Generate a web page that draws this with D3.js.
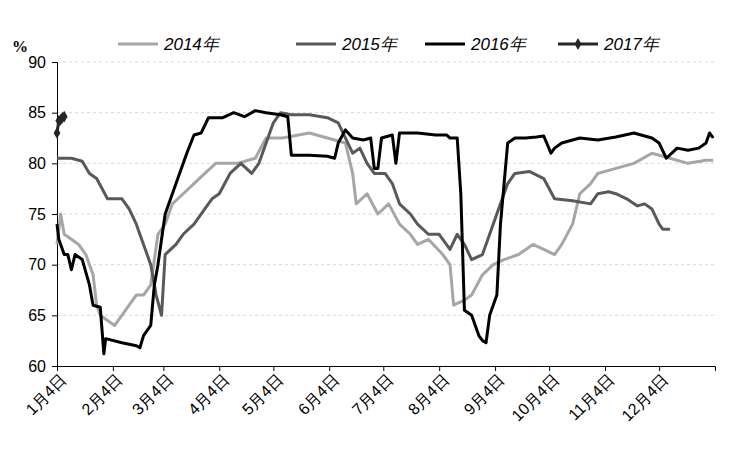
<!DOCTYPE html>
<html><head><meta charset="utf-8">
<script src="https://cdn.jsdelivr.net/npm/d3@7"></script>
<style>body{margin:0;background:#fff}svg{font-family:"Liberation Serif","DejaVu Serif",serif}</style>
</head><body><svg width="733" height="458"></svg>
<script>
// days counted from Jan 4
const monthTicks = [0,31,59,90,120,151,181,212,243,273,304,334];
const monthLabels = ["1月4日","2月4日","3月4日","4月4日","5月4日","6月4日","7月4日","8月4日","9月4日","10月4日","11月4日","12月4日"];
const yTicks = [60,65,70,75,80,85,90];

const s2014 = [[0,72],[2,75],[4,73],[8,72.5],[12,72],[16,71],[20,69],[22,66],[24,65],[28,64.5],[32,64],[36,65],[40,66],[44,67],[48,67],[52,68],[56,73],[60,74],[64,76],[70,77],[76,78],[82,79],[88,80],[94,80],[100,80],[110,80.5],[116,82.5],[125,82.5],[140,83],[150,82.5],[160,82],[164,79],[166,76],[172,77],[178,75],[184,76],[190,74],[196,73],[200,72],[206,72.5],[214,71],[218,70],[220,66],[226,66.5],[230,67],[236,69],[242,70],[248,70.5],[256,71],[264,72],[270,71.5],[276,71],[280,72],[286,74],[290,77],[296,78],[300,79],[310,79.5],[320,80],[330,81],[340,80.5],[350,80],[360,80.3],[364,80.3]];
const s2015 = [[0,80.5],[8,80.5],[14,80.2],[18,79],[22,78.5],[28,76.5],[36,76.5],[40,75.5],[44,74],[48,72],[52,70],[55,67],[58,65],[60,71],[66,72],[70,73],[76,74],[82,75.5],[86,76.5],[90,77],[96,79],[102,80],[108,79],[112,80],[116,82],[120,84],[124,85],[130,84.8],[140,84.8],[150,84.5],[156,84],[164,81],[168,81.5],[172,80],[176,79],[182,79],[186,78],[190,76],[196,75],[200,74],[206,73],[212,73],[218,71.5],[222,73],[226,72],[230,70.5],[236,71],[240,73],[246,76],[250,78],[254,79],[262,79.2],[270,78.5],[276,76.5],[286,76.3],[296,76],[300,77],[306,77.2],[310,77],[316,76.5],[322,75.8],[326,76],[330,75.5],[334,74],[336,73.5],[340,73.5]];
const s2016 = [[0,74],[1,72.5],[4,71],[6,71],[8,69.5],[10,71],[14,70.5],[18,68],[20,66],[24,65.8],[26,61.2],[27,62.7],[36,62.3],[44,62],[46,61.8],[48,63],[52,64],[54,68],[56,70],[58,72.5],[60,75],[64,77],[68,79],[72,81],[76,82.8],[80,83],[84,84.5],[88,84.5],[92,84.5],[98,85],[104,84.6],[110,85.2],[116,85],[124,84.8],[128,84.6],[130,80.8],[140,80.8],[150,80.7],[154,80.5],[156,82],[160,83.3],[164,82.5],[170,82.3],[174,82.5],[176,79.5],[178,79.5],[180,82.5],[186,82.8],[188,80],[190,83],[200,83],[210,82.8],[216,82.8],[218,82.5],[222,82.5],[224,77],[226,65.5],[230,65],[234,63],[236,62.5],[238,62.3],[240,65],[244,67],[246,74],[248,78],[250,82],[254,82.5],[260,82.5],[266,82.6],[270,82.7],[274,81],[276,81.5],[280,82],[290,82.5],[300,82.3],[310,82.6],[320,83],[330,82.5],[334,82],[338,80.5],[344,81.5],[350,81.3],[356,81.5],[360,82],[362,83],[364,82.5]];
const s2017 = [[0,83],[1,84.2],[2,84.3],[3,84.5],[4,84.6]];

const series = [
  {name:"2014年", data:s2014, color:"#a6a6a6"},
  {name:"2015年", data:s2015, color:"#595959"},
  {name:"2016年", data:s2016, color:"#000000"},
  {name:"2017年", data:s2017, color:"#262626", marker:true}
];

const svg = d3.select("svg"),
      margin = {top: 62, right: 18, bottom: 92, left: 57},
      width = 733 - margin.left - margin.right,
      height = 458 - margin.top - margin.bottom;
const g = svg.append("g").attr("transform", `translate(${margin.left},${margin.top})`);

const x = d3.scaleLinear().domain([0,365]).range([0,width]);
const y = d3.scaleLinear().domain([60,90]).range([height,0]);

// gridlines
g.selectAll(".grid").data(yTicks.slice(1)).enter().append("line")
  .attr("x1",0).attr("x2",width).attr("y1",d=>y(d)).attr("y2",d=>y(d))
  .attr("stroke","#d9d9d9").attr("stroke-dasharray","3,3");

const yAxis = g.append("g").call(d3.axisLeft(y).tickValues(yTicks).tickSize(5).tickPadding(6));
yAxis.select(".domain").attr("stroke","#000");
yAxis.selectAll("text").attr("font-size",16).attr("fill","#000");

const xAxis = g.append("g").attr("transform",`translate(0,${height})`)
  .call(d3.axisBottom(x).tickValues(monthTicks).tickFormat((d,i)=>monthLabels[i]).tickSize(5));
xAxis.select(".domain").attr("stroke","#000");
xAxis.selectAll("text").attr("font-size",16).attr("fill","#000")
  .attr("font-family","'Liberation Sans',sans-serif")
  .attr("text-anchor","end").attr("dx","-0.2em").attr("dy","0.6em")
  .attr("transform","rotate(-45)");

const line = d3.line().x(d=>x(d[0])).y(d=>y(d[1]));
series.forEach(s=>{
  g.append("path").datum(s.data).attr("d",line).attr("fill","none")
    .attr("stroke",s.color).attr("stroke-width",3).attr("stroke-linejoin","round");
  if(s.marker){
    g.selectAll(null).data(s.data).enter().append("path")
      .attr("d",d3.symbol(d3.symbolDiamond,40))
      .attr("transform",d=>`translate(${x(d[0])},${y(d[1])})`).attr("fill",s.color);
  }
});

svg.append("text").attr("x",12).attr("y",52).attr("font-size",16).attr("font-weight","bold").text("%");

// legend
const lg = svg.append("g").attr("transform","translate(118,44)");
const lx = [0,178,307,440];
series.forEach((s,i)=>{
  const e = lg.append("g").attr("transform",`translate(${lx[i]},0)`);
  e.append("line").attr("x1",0).attr("x2",40).attr("stroke",s.color).attr("stroke-width",3);
  if(s.marker) e.append("path").attr("d",d3.symbol(d3.symbolDiamond,40)).attr("transform","translate(20,0)").attr("fill",s.color);
  e.append("text").attr("x",46).attr("y",6).attr("font-size",17).attr("font-style","italic")
    .attr("font-family","'Liberation Sans',sans-serif").text(s.name);
});
</script></body></html>
